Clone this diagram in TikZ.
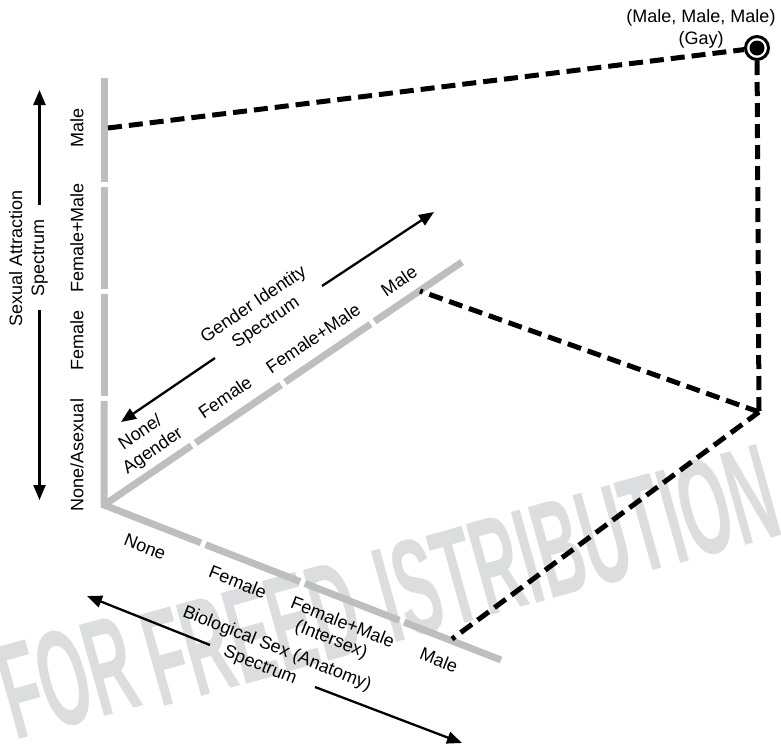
\documentclass[tikz,border=0pt]{standalone}
\usepackage{fontspec}
\setmainfont{Liberation Sans}
\usetikzlibrary{calc,arrows.meta}
\definecolor{axisgray}{HTML}{BCBEC0}
\definecolor{markgray}{HTML}{DCDDDE}

\begin{document}
\begin{tikzpicture}[x=1pt,y=-1pt,
  axisseg/.style={draw=axisgray, line width=7pt},
  linkdash/.style={draw=black, line width=5pt, dash pattern=on 14pt off 7pt},
  lbl/.style={font=\fontsize{18}{22}\selectfont, inner sep=0pt, align=center},
  specarrow/.style={draw=black, line width=2.3pt, -{Triangle[length=15pt,width=12pt]}},
  markword/.style={font=\bfseries\fontsize{137}{137}\selectfont, text=markgray,
    inner sep=0pt, anchor=base west, rotate=15.6, xscale=0.467},
]
\useasboundingbox (0,0) rectangle (781,748);

% background watermark, one word at a time along a rising baseline
\begin{scope}
  \clip (0,0) rectangle (781,748);
  \node[markword] (mark1) at (15,741) {FOR};
  \node[markword] (mark2) at (160,708) {FREED};
  \node[markword] (mark3) at (392,643.5) {ISTRIBUTION};
\end{scope}

% axis end points
\coordinate (O)  at (104,505);
\coordinate (Vt) at (104,78);
\coordinate (Gt) at (462,262);
\coordinate (Bt) at (501,660);

% quarter marks on each axis
\foreach \ax in {V,G,B} {
  \coordinate (\ax1) at ($(O)!0.25!(\ax t)$);
  \coordinate (\ax2) at ($(O)!0.50!(\ax t)$);
  \coordinate (\ax3) at ($(O)!0.75!(\ax t)$);
}

% grey axes, four segments each
\draw[axisseg, line join=miter, shorten <=2.5pt, shorten >=2.5pt] (V1) -- (O) -- (B1);
\draw[axisseg, shorten >=2.5pt] (O) -- (G1);
\foreach \ax in {V,G,B} {
  \draw[axisseg, shorten <=2.5pt, shorten >=2.5pt] (\ax1) -- (\ax2);
  \draw[axisseg, shorten <=2.5pt, shorten >=2.5pt] (\ax2) -- (\ax3);
  \draw[axisseg, shorten <=2.5pt] (\ax3) -- (\ax t);
}

% vertical axis labels
\node[lbl, rotate=90] (vnone) at (77,455) {None/Asexual};
\node[lbl, rotate=90] (vfem)  at (77,340) {Female};
\node[lbl, rotate=90] (vboth) at (77,238) {Female+Male};
\node[lbl, rotate=90] (vmale) at (77,128) {Male};

\node[lbl, rotate=90] (vtitle) at (28.5,258) {Sexual Attraction\\Spectrum};
\coordinate (va) at (39.5,205);
\coordinate (vb) at (39.5,90);
\coordinate (vc) at (39.5,310);
\coordinate (vd) at (39.5,500);
\draw[specarrow] (va) -- (vb);
\draw[specarrow] (vc) -- (vd);

% gender identity axis labels
\node[lbl, rotate=34.2] (gnone) at (147,442) {None/\\Agender};
\node[lbl, rotate=34.2] (gfem)  at (225,397) {Female};
\node[lbl, rotate=34.2] (gboth) at (313,338) {Female+Male};
\node[lbl, rotate=34.2] (gmale) at (399,281) {Male};

\node[lbl, rotate=34.2] (gtitle) at (260,314) {Gender Identity\\Spectrum};
\coordinate (ga) at (322,286);
\coordinate (gb) at (434,212);
\coordinate (gc) at (215,358);
\coordinate (gd) at (121,422);
\draw[specarrow] (ga) -- (gb);
\draw[specarrow] (gc) -- (gd);

% biological sex axis labels
\node[lbl, rotate=-21.6] (bnone) at (145,547) {None};
\node[lbl, rotate=-21.6] (bfem)  at (238,582) {Female};
\node[lbl, rotate=-21.6] (bboth) at (343,622) {Female+Male};
\node[lbl, rotate=-21.6] (binter) at (331,640) {(Intersex)};
\node[lbl, rotate=-21.6] (bmale) at (439,660) {Male};

\node[lbl, rotate=-21.6] (btitle) at (277,649) {Biological Sex (Anatomy)};
\node[lbl, rotate=-21.6] (bspec) at (260,666) {Spectrum};
\coordinate (ba) at (210,645);
\coordinate (bb) at (87,596);
\coordinate (bc) at (315,687);
\coordinate (bd) at (462,743);
\draw[specarrow] (ba) -- (bb);
\draw[specarrow] (bc) -- (bd);

% the marked point and its projections
\node[circle, draw=black, fill=white, line width=3pt, minimum size=23pt, inner sep=0pt] (pt) at (757,48) {};
\node[circle, fill=black, minimum size=15pt, inner sep=0pt] (ptdot) at (pt.center) {};
\node[lbl] (ptlbl) at (701,29) {(Male, Male, Male)\\(Gay)};

\coordinate (vm) at (108,128);
\coordinate (cn) at (759,412);
\coordinate (gm) at (420,291);
\coordinate (bm) at (452,639);
\draw[linkdash] (vm) -- (pt);
\draw[linkdash] (pt) -- (cn);
\draw[linkdash] (cn) -- (gm);
\draw[linkdash] (cn) -- (bm);
\end{tikzpicture}
\end{document}
